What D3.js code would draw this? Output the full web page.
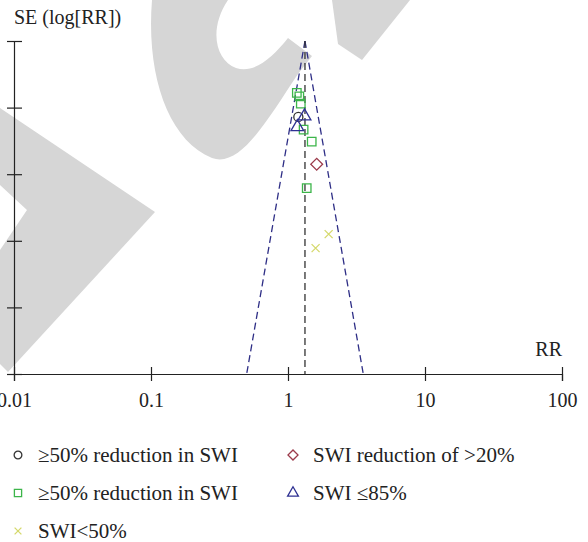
<!DOCTYPE html>
<html>
  <head>
    <title>Funnel plot</title>
    <style>
      body { margin: 0; padding: 0; overflow: hidden; background: #fff; }
      svg { display: block; }
      text { font-family: "Liberation Serif", "DejaVu Serif", serif; fill: #222; }
    </style>
    <script src="https://unpkg.com/d3@7.1.1/dist/d3.min.js"></script>
  </head>
  <body>
    <svg width="588" height="542"></svg>
    <script>
      // Datos (RR, SE)
      const circleRR = [1.19];
      const circleSE = [0.114];
      const squareRR = [1.16, 1.21, 1.24, 1.30, 1.49, 1.37];
      const squareSE = [0.078, 0.083, 0.094, 0.133, 0.151, 0.221];
      const diamondRR = [1.62];
      const diamondSE = [0.185];
      const triangleRR = [1.32, 1.17];
      const triangleSE = [0.113, 0.129];
      const crossRR = [1.98, 1.59];
      const crossSE = [0.290, 0.311];
      const pooledRR = 1.33;

      const xTicks = [0.01, 0.1, 1, 10, 100];
      const xTickLabels = ['0.01', '0.1', '1', '10', '100'];
      const yTicks = [0, 0.1, 0.2, 0.3, 0.4, 0.5];

      const legendLabels = [
        '≥50% reduction in SWI',
        'SWI reduction of >20%',
        '≥50% reduction in SWI',
        'SWI ≤85%',
        'SWI<50%'
      ];

      const svg = d3.select('svg');

      // Marca de agua gris
      const wm = svg.append('g').attr('fill', '#d6d6d6');
      wm.append('path').attr('d',
        'M152,0 C146,75 168,140 212,158 C240,168 266,122 298,74 L312,56 ' +
        'L288,38 C272,58 254,74 236,68 C216,60 208,30 228,0 Z');
      wm.append('path').attr('d', 'M332,0 L410,0 L362,60 L338,44 Z');
      wm.append('path').attr('d',
        'M0,108 L155,212 L8,372 L0,364 L0,250 L27,210 L0,185 Z');

      const x = d3.scaleLog().domain([0.01, 100]).range([14, 562]);
      const y = d3.scaleLinear().domain([0, 0.5]).range([41, 374]);

      // Eje X
      const xAxis = svg.append('g')
        .attr('transform', `translate(0,${y(0.5)})`)
        .call(d3.axisBottom(x)
          .tickValues(xTicks)
          .tickFormat((d, i) => xTickLabels[i])
          .tickSizeOuter(0)
          .tickSize(7));
      xAxis.select('.domain').attr('stroke', '#222').attr('stroke-width', 1.2);
      xAxis.selectAll('.tick line').attr('y1', -7).attr('y2', 7)
        .attr('stroke', '#222').attr('stroke-width', 1.2);
      xAxis.selectAll('.tick text')
        .attr('y', 33).attr('dy', 0)
        .style('font-size', '20px')
        .style('font-family', '"Liberation Serif", serif')
        .attr('fill', '#222');

      // Eje Y
      const yAxis = svg.append('g')
        .attr('transform', `translate(${x(0.01)},0)`)
        .call(d3.axisLeft(y)
          .tickValues(yTicks)
          .tickFormat('')
          .tickSizeOuter(0)
          .tickSize(7));
      yAxis.select('.domain').attr('stroke', '#222').attr('stroke-width', 1.2);
      yAxis.selectAll('.tick line').attr('x1', -7).attr('x2', 8)
        .attr('stroke', '#222').attr('stroke-width', 1.2);

      // Títulos de ejes
      svg.append('text').attr('x', 14).attr('y', 24)
        .style('font-size', '20px').text('SE (log[RR])');
      svg.append('text').attr('x', 562).attr('y', 356)
        .attr('text-anchor', 'end')
        .style('font-size', '20px').text('RR');

      // Embudo (IC 95% pseudo)
      const seLine = [0, 0.5];
      const funnel = d3.line()
        .x(d => x(d[0]))
        .y(d => y(d[1]));
      [-1, 1].forEach(s => {
        svg.append('path')
          .attr('d', funnel(seLine.map(se => [pooledRR * Math.exp(s * 1.96 * se), se])))
          .attr('fill', 'none')
          .attr('stroke', '#2e2e86')
          .attr('stroke-width', 1.3)
          .attr('stroke-dasharray', '7,4');
      });

      // Línea del efecto combinado
      svg.append('line')
        .attr('x1', x(pooledRR)).attr('x2', x(pooledRR))
        .attr('y1', y(0)).attr('y2', y(0.5))
        .attr('stroke', '#333')
        .attr('stroke-width', 1.3)
        .attr('stroke-dasharray', '7,4');

      // Símbolos
      const symbols = {
        circle: { type: d3.symbolCircle, size: 65, color: '#333' },
        square: { type: d3.symbolSquare, size: 72, color: '#3cb54a' },
        diamond: { type: d3.symbolDiamond, size: 70, color: '#9c3b4b' },
        triangle: { type: d3.symbolTriangle, size: 70, color: '#2e3192' },
        cross: { type: d3.symbolCross, size: 50, color: '#d5d96c' }
      };

      function drawMark(g, key, px, py, scale) {
        const s = symbols[key];
        if (key === 'cross') {
          const h = 4 * scale;
          g.append('path')
            .attr('d', `M${px - h},${py - h}L${px + h},${py + h}M${px - h},${py + h}L${px + h},${py - h}`)
            .attr('stroke', s.color).attr('stroke-width', 1.3).attr('fill', 'none');
          return;
        }
        let t = `translate(${px},${py})`;
        if (key === 'diamond') t += ' rotate(45)';
        g.append('path')
          .attr('d', d3.symbol().type(key === 'diamond' ? d3.symbolSquare : s.type)
            .size(s.size * scale * scale)())
          .attr('transform', t)
          .attr('fill', 'none')
          .attr('stroke', s.color)
          .attr('stroke-width', 1.3);
      }

      const marks = svg.append('g');
      const groups = [
        ['square', squareRR, squareSE],
        ['circle', circleRR, circleSE],
        ['triangle', triangleRR, triangleSE],
        ['diamond', diamondRR, diamondSE],
        ['cross', crossRR, crossSE]
      ];
      groups.forEach(([key, rr, se]) => {
        rr.forEach((v, i) => drawMark(marks, key, x(v), y(se[i]), 1));
      });

      // Leyenda
      const legendKeys = ['circle', 'diamond', 'square', 'triangle', 'cross'];
      const legend = svg.append('g');
      legendKeys.forEach((key, i) => {
        const col = i % 2, row = Math.floor(i / 2);
        const lx = col === 0 ? 18 : 293;
        const ly = 455 + row * 38;
        drawMark(legend, key, lx, ly, 0.85);
        legend.append('text')
          .attr('x', lx + 20).attr('y', ly + 7)
          .style('font-size', '21px')
          .text(legendLabels[i]);
      });
    </script>
  </body>
</html>
